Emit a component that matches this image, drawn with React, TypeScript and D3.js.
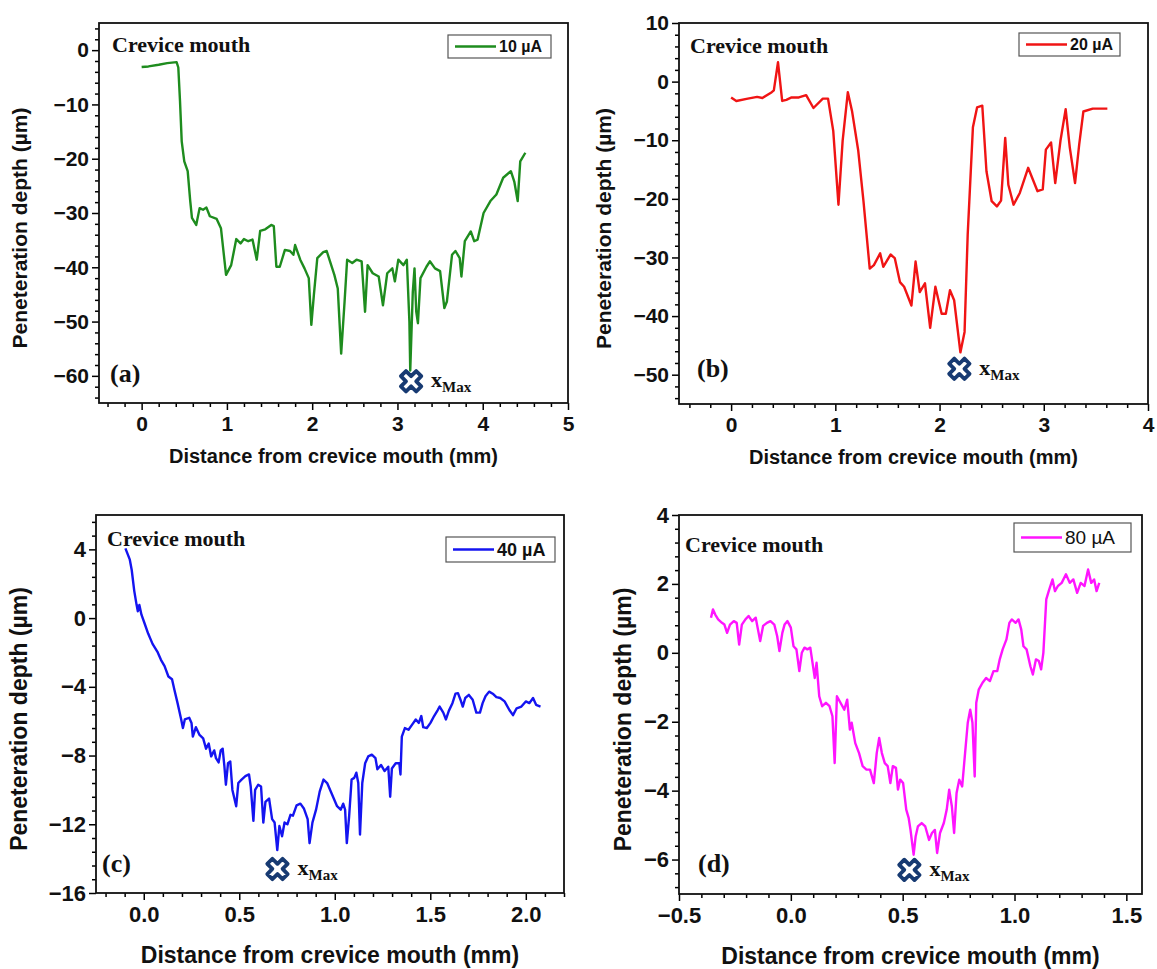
import * as d3 from 'd3'
import { useEffect, useRef } from 'react'

const profileA: [number, number][] = [
  [0, -3.1], [0.08, -3.0], [0.2, -2.7], [0.3, -2.4], [0.41, -2.2], [0.43, -3.2], [0.45, -9.4], [0.47, -16.8],
  [0.5, -20.5], [0.54, -22.3], [0.57, -27.8], [0.59, -30.9], [0.64, -32.2], [0.68, -29.1], [0.72, -29.4],
  [0.76, -29.0], [0.8, -30.6], [0.88, -31.1], [0.93, -32.8], [0.99, -41.4], [1.05, -39.6], [1.11, -34.8],
  [1.16, -35.6], [1.2, -34.8], [1.25, -35.2], [1.3, -34.9], [1.35, -38.6], [1.39, -33.3], [1.45, -33.0],
  [1.52, -32.2], [1.55, -32.4], [1.58, -39.9], [1.62, -39.9], [1.68, -36.8], [1.74, -37.0], [1.78, -37.7],
  [1.8, -35.9], [1.86, -38.6], [1.91, -40.2], [1.96, -42.0], [1.99, -50.6], [2.02, -45.1], [2.06, -38.3],
  [2.13, -37.2], [2.17, -37.0], [2.26, -41.4], [2.3, -43.9], [2.34, -55.9], [2.38, -46.3], [2.41, -38.6],
  [2.47, -39.2], [2.52, -38.6], [2.58, -38.9], [2.62, -48.2], [2.65, -39.6], [2.71, -41.1], [2.78, -41.7],
  [2.83, -47.0], [2.88, -41.1], [2.94, -40.2], [2.97, -42.6], [3.01, -38.6], [3.07, -39.6], [3.11, -38.6],
  [3.14, -50.0], [3.15, -59.0], [3.18, -44.5], [3.2, -40.2], [3.22, -48.1], [3.24, -50.3], [3.27, -42.0],
  [3.34, -39.9], [3.38, -38.9], [3.44, -40.2], [3.5, -40.7], [3.55, -47.5], [3.58, -46.3], [3.64, -37.7],
  [3.68, -37.0], [3.73, -38.3], [3.75, -41.7], [3.79, -35.2], [3.86, -33.4], [3.9, -35.2], [3.94, -34.9],
  [4.01, -30.0], [4.09, -27.8], [4.16, -26.6], [4.24, -23.5], [4.33, -22.3], [4.37, -24.2], [4.41, -27.8],
  [4.44, -20.5], [4.5, -18.9],
]

const profileB: [number, number][] = [
  [0, -2.7], [0.05, -3.3], [0.16, -2.9], [0.25, -2.6], [0.3, -2.8], [0.39, -1.8], [0.41, -1.5], [0.45, 3.3],
  [0.49, -3.3], [0.53, -3.1], [0.58, -2.7], [0.65, -2.7], [0.72, -2.3], [0.79, -4.5], [0.88, -2.9], [0.93, -2.9],
  [0.98, -8.4], [1.03, -21.0], [1.07, -10.1], [1.12, -1.8], [1.16, -5.0], [1.22, -11.8], [1.27, -20.4],
  [1.33, -31.9], [1.37, -31.3], [1.43, -29.3], [1.46, -31.6], [1.53, -29.5], [1.57, -30.1], [1.62, -34.2],
  [1.66, -35.0], [1.73, -38.2], [1.77, -30.7], [1.81, -35.9], [1.86, -34.4], [1.91, -42.0], [1.96, -35.0],
  [2.02, -39.6], [2.06, -39.6], [2.1, -35.6], [2.14, -37.3], [2.2, -46.2], [2.24, -42.7], [2.27, -26.1],
  [2.32, -7.8], [2.36, -4.4], [2.41, -4.1], [2.45, -15.3], [2.5, -20.4], [2.55, -21.3], [2.59, -20.3],
  [2.63, -9.6], [2.66, -17.6], [2.71, -21.0], [2.77, -19.0], [2.85, -14.7], [2.94, -18.7], [2.99, -18.4],
  [3.02, -11.6], [3.07, -10.4], [3.11, -17.3], [3.16, -10.1], [3.21, -4.7], [3.25, -11.3], [3.3, -17.3],
  [3.34, -10.7], [3.38, -5.1], [3.47, -4.6], [3.61, -4.6],
]

const profileC: [number, number][] = [
  [-0.096, 4.06], [-0.073, 3.4], [-0.063, 2.8], [-0.05, 1.6], [-0.038, 0.8], [-0.031, 0.4], [-0.023, 0.76],
  [-0.012, 0.2], [0.004, -0.3], [0.023, -0.9], [0.046, -1.5], [0.071, -1.95], [0.09, -2.43], [0.109, -2.8],
  [0.129, -3.4], [0.148, -3.56], [0.161, -4.2], [0.177, -4.95], [0.196, -5.9], [0.205, -6.4], [0.215, -5.9],
  [0.238, -5.8], [0.25, -6.1], [0.257, -6.9], [0.273, -6.35], [0.292, -6.8], [0.311, -7.0], [0.326, -7.6],
  [0.34, -7.3], [0.353, -8.05], [0.369, -7.7], [0.378, -8.15], [0.392, -8.4], [0.403, -7.7], [0.413, -7.6],
  [0.422, -8.6], [0.43, -9.7], [0.441, -8.45], [0.453, -8.35], [0.464, -10.0], [0.484, -10.95], [0.495, -9.6],
  [0.512, -9.4], [0.532, -9.2], [0.551, -9.1], [0.56, -9.8], [0.574, -11.8], [0.583, -10.0], [0.599, -9.7],
  [0.614, -9.8], [0.626, -11.9], [0.637, -10.7], [0.656, -10.5], [0.672, -11.7], [0.685, -11.9], [0.699, -13.5],
  [0.71, -12.1], [0.724, -12.7], [0.737, -11.9], [0.752, -12.0], [0.768, -11.45], [0.781, -11.5], [0.8, -10.9],
  [0.82, -10.8], [0.839, -11.1], [0.858, -11.7], [0.868, -13.1], [0.883, -11.9], [0.902, -11.15], [0.921, -10.1],
  [0.941, -9.4], [0.96, -9.6], [0.983, -10.2], [1.012, -10.95], [1.031, -11.15], [1.044, -10.8], [1.054, -11.15],
  [1.063, -13.1], [1.075, -11.55], [1.088, -9.4], [1.102, -9.3], [1.113, -9.0], [1.123, -9.6], [1.132, -12.6],
  [1.144, -9.6], [1.159, -8.45], [1.175, -8.05], [1.194, -7.95], [1.213, -8.15], [1.223, -8.8], [1.242, -8.55],
  [1.261, -8.9], [1.28, -8.65], [1.29, -10.4], [1.299, -8.75], [1.319, -8.45], [1.338, -8.45], [1.344, -9.1],
  [1.351, -6.9], [1.367, -6.4], [1.386, -6.5], [1.405, -6.2], [1.424, -5.9], [1.44, -6.1], [1.453, -5.7],
  [1.463, -6.35], [1.482, -6.4], [1.501, -6.1], [1.52, -5.7], [1.539, -5.35], [1.549, -5.15], [1.568, -5.5],
  [1.582, -5.9], [1.597, -5.4], [1.616, -4.95], [1.632, -4.4], [1.645, -4.37], [1.658, -4.75], [1.67, -5.15],
  [1.683, -4.65], [1.702, -4.47], [1.722, -4.75], [1.741, -5.5], [1.76, -5.5], [1.774, -4.95], [1.789, -4.55],
  [1.808, -4.28], [1.827, -4.4], [1.846, -4.6], [1.866, -4.65], [1.889, -4.85], [1.914, -5.35], [1.933, -5.65],
  [1.952, -5.25], [1.977, -5.15], [2.0, -4.85], [2.019, -4.95], [2.038, -4.65], [2.054, -5.05], [2.077, -5.15],
]

const profileD: [number, number][] = [
  [-0.357, 1.02], [-0.348, 1.26], [-0.338, 1.11], [-0.325, 0.97], [-0.308, 0.87], [-0.297, 0.82], [-0.285, 0.58],
  [-0.272, 0.82], [-0.255, 0.92], [-0.242, 0.87], [-0.231, 0.24], [-0.219, 0.82], [-0.203, 0.97], [-0.189, 1.07],
  [-0.173, 0.92], [-0.157, 1.02], [-0.137, 0.34], [-0.124, 0.78], [-0.107, 0.87], [-0.091, 0.92], [-0.074, 0.82],
  [-0.061, 0.48], [-0.051, 0.05], [-0.038, 0.58], [-0.028, 0.82], [-0.015, 0.92], [0.0, 0.73], [0.012, 0.19],
  [0.025, 0.1], [0.038, -0.53], [0.049, 0.0], [0.061, 0.15], [0.074, 0.1], [0.087, 0.15], [0.097, -0.29],
  [0.107, -0.73], [0.115, -0.29], [0.127, -1.26], [0.14, -1.55], [0.157, -1.45], [0.173, -1.55], [0.186, -1.84],
  [0.196, -3.2], [0.206, -1.26], [0.222, -1.45], [0.239, -1.65], [0.252, -1.36], [0.264, -2.23], [0.272, -2.03],
  [0.288, -2.62], [0.305, -2.91], [0.321, -3.29], [0.338, -3.39], [0.354, -3.39], [0.371, -3.78], [0.384, -2.91],
  [0.395, -2.47], [0.407, -2.91], [0.42, -3.2], [0.433, -3.29], [0.445, -3.78], [0.456, -3.29], [0.47, -3.34],
  [0.479, -3.97], [0.489, -3.68], [0.502, -3.78], [0.516, -4.55], [0.527, -4.8], [0.535, -5.14], [0.549, -5.86],
  [0.558, -5.33], [0.568, -5.04], [0.585, -4.94], [0.601, -5.04], [0.618, -5.43], [0.631, -5.23], [0.644, -5.14],
  [0.654, -5.81], [0.667, -5.23], [0.684, -4.94], [0.697, -4.55], [0.708, -3.97], [0.72, -4.46], [0.73, -5.23],
  [0.741, -4.07], [0.753, -3.68], [0.766, -3.88], [0.779, -2.91], [0.791, -2.03], [0.802, -1.65], [0.812, -2.03],
  [0.822, -3.59], [0.829, -1.45], [0.84, -1.07], [0.857, -0.87], [0.873, -0.73], [0.89, -0.82], [0.906, -0.53],
  [0.923, -0.53], [0.934, -0.19], [0.947, 0.1], [0.964, 0.39], [0.977, 0.87], [0.988, 0.97], [1.005, 0.87],
  [1.018, 0.97], [1.03, 0.68], [1.04, 0.19], [1.054, 0.1], [1.071, -0.39], [1.082, -0.63], [1.096, -0.19],
  [1.109, -0.24], [1.119, -0.48], [1.129, 0.0], [1.142, 1.55], [1.153, 1.79], [1.17, 2.13], [1.181, 1.79],
  [1.194, 1.94], [1.211, 2.03], [1.23, 2.28], [1.247, 2.03], [1.263, 2.13], [1.28, 1.74], [1.296, 2.03],
  [1.313, 1.94], [1.329, 2.42], [1.343, 2.03], [1.356, 2.13], [1.367, 1.79], [1.379, 2.03],
]

// deepest point of each profile (x, y of the marker)
const xMaxPoints: [number, number][] = [[3.16, -61], [2.19, -49], [0.7, -14.6], [0.53, -6.3]]

const xTicksA = [0, 1, 2, 3, 4, 5]
const yTicksA = [0, -10, -20, -30, -40, -50, -60]
const xTicksB = [0, 1, 2, 3, 4]
const yTicksB = [10, 0, -10, -20, -30, -40, -50]
const xTicksC = [0, 0.5, 1.0, 1.5, 2.0]
const yTicksC = [4, 0, -4, -8, -12, -16]
const xTicksD = [-0.5, 0, 0.5, 1.0, 1.5]
const yTicksD = [4, 2, 0, -2, -4, -6]

const legendLabels = ['10 µA', '20 µA', '40 µA', '80 µA']
const panelLabels = ['(a)', '(b)', '(c)', '(d)']

const SANS = '"Liberation Sans", Arial, sans-serif'
const SERIF = '"Liberation Serif", "Times New Roman", serif'

const panels = [
  {
    data: profileA, color: '#1e8c1e', xDomain: [-0.5, 5], yDomain: [-65, 5],
    xTicks: xTicksA, yTicks: yTicksA, xStep: 0.2, yStep: 2, fmt: d3.format('d'),
    box: { l: 99, t: 23, r: 568, b: 403 }, yTitleX: 19, font: 21, titleFont: 20, yTitleFont: 21, titleGap: 60,
    legend: { x: 448, y: 35, w: 103, h: 23, font: 16, bold: true },
    crevice: [112, 52], tag: [110, 382],
  },
  {
    data: profileB, color: '#f01414', xDomain: [-0.5, 4], yDomain: [-55, 10],
    xTicks: xTicksB, yTicks: yTicksB, xStep: 0.2, yStep: 2, fmt: d3.format('d'),
    box: { l: 679, t: 23, r: 1148, b: 404 }, yTitleX: 603, font: 21, titleFont: 20, yTitleFont: 21, titleGap: 60,
    legend: { x: 1019, y: 33, w: 101, h: 23, font: 16, bold: true },
    crevice: [690, 53], tag: [697, 377],
  },
  {
    data: profileC, color: '#1414f0', xDomain: [-0.25, 2.2], yDomain: [-16, 6],
    xTicks: xTicksC, yTicks: yTicksC, xStep: 0.1, yStep: 0.8, fmt: d3.format('.1f'),
    box: { l: 96, t: 515, r: 564, b: 893 }, yTitleX: 19, font: 22, titleFont: 23, yTitleFont: 23, titleGap: 70,
    legend: { x: 446, y: 537, w: 109, h: 25, font: 18, bold: true },
    crevice: [107, 546], tag: [102, 872],
  },
  {
    data: profileD, color: '#ff14ff', xDomain: [-0.5, 1.57], yDomain: [-7, 4],
    xTicks: xTicksD, yTicks: yTicksD, xStep: 0.1, yStep: 0.4, fmt: d3.format('.1f'),
    box: { l: 679, t: 515, r: 1142, b: 894 }, yTitleX: 623, font: 22, titleFont: 23, yTitleFont: 23, titleGap: 70,
    legend: { x: 1014, y: 523, w: 117, h: 29, font: 19, bold: false },
    crevice: [685, 552], tag: [698, 872],
  },
]

function minorTicks(domain: number[], step: number, major: number[]) {
  const lo = Math.ceil(domain[0] / step - 1e-6)
  const hi = Math.floor(domain[1] / step + 1e-6)
  return d3.range(lo, hi + 1)
    .map(i => +(i * step).toFixed(4))
    .filter(v => !major.some(m => Math.abs(m - v) < 1e-6))
}

export default function App() {
  const ref = useRef<SVGSVGElement>(null)

  useEffect(() => {
    const svg = d3.select(ref.current)
    svg.selectAll('*').remove()

    panels.forEach((p, i) => {
      const g = svg.append('g')
      const x = d3.scaleLinear().domain(p.xDomain).range([p.box.l, p.box.r])
      const y = d3.scaleLinear().domain(p.yDomain).range([p.box.b, p.box.t])

      // minor ticks
      g.append('g')
        .attr('transform', `translate(0,${p.box.b})`)
        .call(d3.axisBottom(x).tickValues(minorTicks(p.xDomain, p.xStep, p.xTicks)).tickSize(4).tickSizeOuter(0).tickFormat(() => ''))
      g.append('g')
        .attr('transform', `translate(${p.box.l},0)`)
        .call(d3.axisLeft(y).tickValues(minorTicks(p.yDomain, p.yStep, p.yTicks)).tickSize(4).tickSizeOuter(0).tickFormat(() => ''))

      // major ticks + labels
      g.append('g')
        .attr('transform', `translate(0,${p.box.b})`)
        .call(d3.axisBottom(x).tickValues(p.xTicks).tickSize(7).tickPadding(6).tickSizeOuter(0).tickFormat(d => p.fmt(d as number)))
        .attr('font-size', p.font).attr('font-family', SANS).attr('font-weight', 'bold')
      g.append('g')
        .attr('transform', `translate(${p.box.l},0)`)
        .call(d3.axisLeft(y).tickValues(p.yTicks).tickSize(7).tickPadding(3).tickSizeOuter(0).tickFormat(d => d3.format('d')(d as number)))
        .attr('font-size', p.font).attr('font-family', SANS).attr('font-weight', 'bold')

      g.selectAll('.domain').remove()
      g.selectAll('.tick line').attr('stroke-width', 1.5)
      g.selectAll('.tick text').attr('fill', '#111')

      // frame
      g.append('rect')
        .attr('x', p.box.l).attr('y', p.box.t)
        .attr('width', p.box.r - p.box.l).attr('height', p.box.b - p.box.t)
        .attr('fill', 'none').attr('stroke', '#111').attr('stroke-width', 1.8)

      // profile
      const line = d3.line<[number, number]>().x(d => x(d[0])).y(d => y(d[1]))
      g.append('path')
        .datum(p.data)
        .attr('d', line)
        .attr('fill', 'none')
        .attr('stroke', p.color)
        .attr('stroke-width', 2.4)
        .attr('stroke-linejoin', 'round')

      // axis titles
      g.append('text')
        .attr('x', (p.box.l + p.box.r) / 2)
        .attr('y', p.box.b + p.titleGap)
        .attr('text-anchor', 'middle')
        .attr('font-family', SANS).attr('font-weight', 'bold').attr('font-size', p.titleFont)
        .attr('fill', '#111')
        .text('Distance from crevice mouth (mm)')
      g.append('text')
        .attr('transform', `translate(${p.yTitleX},${(p.box.t + p.box.b) / 2 + 15}) rotate(-90)`)
        .attr('text-anchor', 'middle')
        .attr('dominant-baseline', 'central')
        .attr('font-family', SANS).attr('font-weight', 'bold').attr('font-size', p.yTitleFont)
        .attr('fill', '#111')
        .text('Peneteration depth (µm)')

      // annotations
      g.append('text')
        .attr('x', p.crevice[0]).attr('y', p.crevice[1])
        .attr('font-family', SERIF).attr('font-weight', 'bold').attr('font-size', 22)
        .attr('fill', '#111')
        .text('Crevice mouth')
      g.append('text')
        .attr('x', p.tag[0]).attr('y', p.tag[1])
        .attr('font-family', SERIF).attr('font-weight', 'bold').attr('font-size', 26)
        .attr('fill', '#111')
        .text(panelLabels[i])

      // legend
      const lg = p.legend
      g.append('rect')
        .attr('x', lg.x).attr('y', lg.y).attr('width', lg.w).attr('height', lg.h)
        .attr('fill', 'white').attr('stroke', '#555').attr('stroke-width', 1.2)
      g.append('line')
        .attr('x1', lg.x + 7).attr('x2', lg.x + 48)
        .attr('y1', lg.y + lg.h / 2).attr('y2', lg.y + lg.h / 2)
        .attr('stroke', p.color).attr('stroke-width', 2.5)
      g.append('text')
        .attr('x', lg.x + 51).attr('y', lg.y + lg.h / 2)
        .attr('dominant-baseline', 'central')
        .attr('font-family', SANS).attr('font-weight', lg.bold ? 'bold' : 'normal').attr('font-size', lg.font)
        .attr('fill', '#111')
        .text(legendLabels[i])

      // x_Max marker
      const [mx, my] = xMaxPoints[i]
      g.append('path')
        .attr('d', d3.symbol(d3.symbolCross, 260)())
        .attr('transform', `translate(${x(mx)},${y(my)}) rotate(45)`)
        .attr('fill', 'white')
        .attr('stroke', '#173a72')
        .attr('stroke-width', 3.8)
        .attr('stroke-linejoin', 'round')
      const t = g.append('text')
        .attr('x', x(mx) + 20).attr('y', y(my) + 6)
        .attr('font-family', SERIF).attr('font-weight', 'bold').attr('fill', '#111')
      t.append('tspan').attr('font-size', 22).text('x')
      t.append('tspan').attr('font-size', 15).attr('dy', 5).text('Max')
    })
  }, [])

  return (
    <svg
      ref={ref}
      width={1157}
      height={969}
      style={{ position: 'absolute', left: 0, top: 0, background: 'white' }}
    />
  )
}
